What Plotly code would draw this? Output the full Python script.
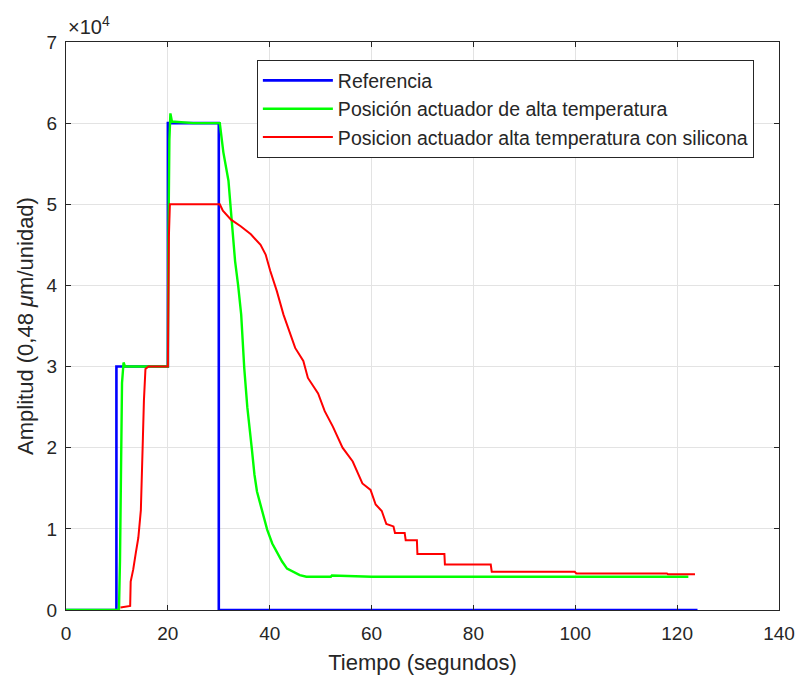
import plotly.graph_objects as go

# Data
ref_t = [0, 9.9, 9.9, 20.0, 20.0, 30.0, 30.0, 124.0]
ref_y = [0, 0, 30000, 30000, 60000, 60000, 0, 0]

green_t = [0, 10.4, 10.6, 10.8, 11.0, 11.3, 11.6, 15, 20.0, 20.1, 20.3, 20.5, 20.8, 25, 30.2,
           30.9, 31.9, 32.5, 33.2, 33.8, 34.4, 35.0, 35.6, 36.5, 37.0, 37.5, 38.5, 39.5, 40.5,
           41.4, 42.4, 43.4, 44.6, 45.9, 47.2, 50, 52.0, 52.2, 60, 80, 100, 122.2]
green_y = [0, 0, 6000, 20000, 28000, 30500, 30000, 30000, 30000, 45000, 58000, 61200, 60200, 60000, 60000,
           56400, 52900, 48300, 43000, 40000, 36400, 29800, 25000, 19800, 16700, 14600, 12100, 9900, 8200,
           7200, 6000, 5100, 4700, 4300, 4100, 4100, 4100, 4250, 4100, 4100, 4100, 4100]

red_t = [10.7, 12.6, 12.7, 13.2, 13.7, 14.2, 14.7, 14.9, 15.1, 15.3, 15.6, 16.2, 20.0, 20.2, 20.4, 25,
         30.2, 30.8, 32.4, 34.3, 36.3, 38.2, 39.2, 40.1, 41.4, 42.7, 44.0, 45.0, 46.6, 47.5, 49.5,
         50.8, 52.4, 54.3, 56.3, 58.2, 59.8, 60.8, 62.0, 62.9, 64.3, 64.6, 66.5, 66.7, 68.9, 69.0,
         74.3, 74.4, 83.4, 83.6, 99.9, 100.2, 118.0, 118.2, 123.5]
red_y = [300, 500, 3500, 5000, 7000, 8900, 12300, 15700, 21200, 25800, 29700, 30000, 30000, 46000, 50000, 50000,
         50000, 49200, 48100, 47300, 46300, 45000, 43800, 41800, 39300, 36400, 34000, 32300, 30700, 28600, 26700,
         24500, 22600, 20000, 18300, 15600, 14800, 13000, 12200, 10600, 10300, 9500, 9500, 8600, 8600, 6900,
         6900, 5600, 5600, 4700, 4700, 4500, 4500, 4400, 4400]

names = ["Referencia", "Posición actuador de alta temperatura",
         "Posicion actuador alta temperatura con silicona"]
colors = ["#0000ff", "#00ff00", "#ff0000"]
widths = [2.6, 2.4, 2.0]

y_ticks = [0, 10000, 20000, 30000, 40000, 50000, 60000, 70000]
y_ticktext = ["0", "1", "2", "3", "4", "5", "6", "7"]
x_ticks = [0, 20, 40, 60, 80, 100, 120, 140]

FONT = "Liberation Sans, Arial, Helvetica, sans-serif"
INK = "#262626"

fig = go.Figure()
for t, y, n, c, w in zip([ref_t, green_t, red_t], [ref_y, green_y, red_y], names, colors, widths):
    fig.add_trace(go.Scatter(x=t, y=y, mode="lines", name=n,
                             line=dict(color=c, width=w)))

axis_common = dict(showline=True, linecolor=INK, linewidth=1, mirror="ticks",
                   ticks="inside", ticklen=5, tickcolor=INK,
                   showgrid=True, gridcolor="#e3e3e3", gridwidth=1, zeroline=False,
                   tickfont=dict(family=FONT, size=19, color=INK))

fig.update_layout(
    width=799, height=674,
    paper_bgcolor="white", plot_bgcolor="white",
    margin=dict(l=58, r=20, t=34, b=71),
    font=dict(family=FONT, color=INK),
    xaxis=dict(range=[0, 140], tickvals=x_ticks, ticklabelstandoff=6,
               title=dict(text="Tiempo (segundos)", font=dict(family=FONT, size=22, color=INK),
                          standoff=11),
               **axis_common),
    yaxis=dict(range=[0, 70000], tickvals=y_ticks, ticktext=y_ticktext, ticklabelstandoff=4,
               title=dict(text="Amplitud (0,48 <i>μ</i>m/unidad)",
                          font=dict(family=FONT, size=22, color=INK), standoff=6),
               **axis_common),
    legend=dict(x=0.2677, y=0.968, xanchor="left", yanchor="top",
                bgcolor="white", bordercolor=INK, borderwidth=1,
                font=dict(family=FONT, size=19.5, color=INK),
                itemwidth=70, tracegroupgap=0),
    showlegend=True,
)

fig.add_annotation(xref="paper", yref="paper", x=0, y=1, xanchor="left", yanchor="bottom",
                   text="×10<sup>4</sup>", showarrow=False, xshift=0, yshift=2,
                   font=dict(family=FONT, size=20, color=INK))

fig.write_html("out.html")
